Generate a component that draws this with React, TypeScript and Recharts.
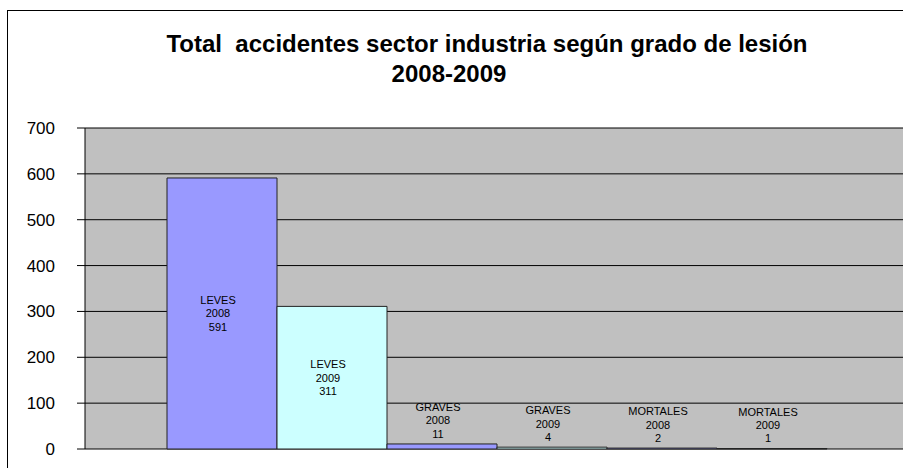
import { BarChart, Bar, XAxis, YAxis, CartesianGrid, LabelList } from "recharts";

const grades = ["LEVES", "LEVES", "GRAVES", "GRAVES", "MORTALES", "MORTALES"];
const years = ["2008", "2009", "2008", "2009", "2008", "2009"];
const values = [591, 311, 11, 4, 2, 1];
const colors = ["#9999FF", "#CCFFFF", "#9999FF", "#CCFFFF", "#9999FF", "#CCFFFF"];
const yTicks = [0, 100, 200, 300, 400, 500, 600, 700];

const FONT = '"Liberation Sans", Arial, sans-serif';

const row: Record<string, string | number> = { cat: "" };
values.forEach((v, i) => {
  row["s" + i] = v;
});
const chartData = [row];

function makeLabel(i: number) {
  return (props: any) => {
    const x = Number(props.x);
    const y = Number(props.y);
    const w = Number(props.width);
    const h = Number(props.height);
    const cx = x + w / 2 - 4;
    // big bars: centred; small bars: label sits just above the bar
    const mid = h > 50 ? y + h / 2 : y - 23.5;
    const lines = [grades[i], years[i], " " + props.value];
    return (
      <g>
        {lines.map((t, k) => (
          <text
            key={k}
            x={cx}
            y={mid + (k - 1) * 13.3}
            textAnchor="middle"
            dominantBaseline="central"
            fontSize={11}
            fontFamily={FONT}
            fill="#000"
          >
            {t}
          </text>
        ))}
      </g>
    );
  };
}

export default function App() {
  return (
    <div
      style={{
        position: "absolute",
        left: 0,
        top: 0,
        width: 903,
        height: 468,
        overflow: "hidden",
        background: "#fff",
        fontFamily: FONT,
      }}
    >
      <div
        style={{
          position: "absolute",
          left: 7,
          top: 10,
          width: 940,
          height: 480,
          borderLeft: "1px solid #000",
          borderTop: "1px solid #000",
        }}
      />
      <div style={{ position: "absolute", left: 0, top: 0 }}>
        <BarChart
          width={930}
          height={470}
          data={chartData}
          margin={{ top: 128, right: 21, bottom: 21, left: 0 }}
          barCategoryGap={82}
          barGap={0}
        >
          <CartesianGrid
            vertical={false}
            stroke="#000"
            strokeWidth={1}
            strokeOpacity={1}
            fill="#C0C0C0"
            fillOpacity={1}
          />
          <XAxis dataKey="cat" hide />
          <YAxis
            width={85}
            domain={[0, 700]}
            ticks={yTicks}
            interval={0}
            tickSize={8}
            tickMargin={22}
            axisLine={{ stroke: "#000" }}
            tickLine={{ stroke: "#000" }}
            tick={{ fill: "#000", fontSize: 17, fontFamily: FONT }}
          />
          {values.map((_, i) => (
            <Bar
              key={i}
              dataKey={"s" + i}
              fill={colors[i]}
              stroke="#222"
              strokeWidth={1}
              isAnimationActive={false}
            >
              <LabelList content={makeLabel(i)} />
            </Bar>
          ))}
        </BarChart>
      </div>
      <svg
        width={903}
        height={468}
        style={{ position: "absolute", left: 0, top: 0, pointerEvents: "none" }}
      >
        <text
          x={487}
          y={52}
          textAnchor="middle"
          fontSize={24}
          fontWeight="bold"
          fontFamily={FONT}
          fill="#000"
          xmlSpace="preserve"
        >
          {"Total  accidentes sector industria según grado de lesión"}
        </text>
        <text
          x={449}
          y={82}
          textAnchor="middle"
          fontSize={24}
          fontWeight="bold"
          fontFamily={FONT}
          fill="#000"
        >
          2008-2009
        </text>
      </svg>
    </div>
  );
}
